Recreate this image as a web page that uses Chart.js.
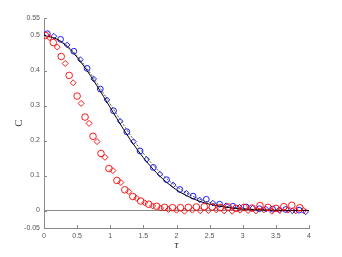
<!DOCTYPE html>
<html>
<head>
<meta charset="utf-8">
<script src="https://cdn.jsdelivr.net/npm/chart.js@4"></script>
<style>
  html, body { margin: 0; padding: 0; background: #fff; }
  #wrap { width: 342px; height: 257px; }
</style>
</head>
<body>
<div id="wrap"><canvas id="myChart" width="342" height="257"></canvas></div>
<script>
// tick labels
var xTicks = [0, 0.5, 1, 1.5, 2, 2.5, 3, 3.5, 4];
var yTicks = [-0.05, 0, 0.1, 0.2, 0.3, 0.4, 0.5, 0.55];

// red circles
var redCircleT = [0.02, 0.14, 0.26, 0.38, 0.50, 0.62, 0.74, 0.86, 0.98, 1.10, 1.22, 1.34, 1.46, 1.58, 1.70, 1.82, 1.94,
	2.06, 2.18, 2.30, 2.42, 2.54, 2.66, 2.78, 2.90, 3.02, 3.14, 3.26, 3.38, 3.50, 3.62, 3.74, 3.86];
var redCircleC = [0.500, 0.480, 0.440, 0.386, 0.327, 0.267, 0.212, 0.163, 0.120, 0.086, 0.059, 0.040, 0.027, 0.018, 0.012, 0.009, 0.008,
	0.008, 0.009, 0.010, 0.011, 0.010, 0.008, 0.010, 0.006, 0.009, 0.007, 0.014, 0.009, 0.006, 0.011, 0.015, 0.008];

// red diamonds
var redDiamondT = [0.08, 0.20, 0.32, 0.44, 0.56, 0.68, 0.80, 0.92, 1.04, 1.16, 1.28, 1.40, 1.52, 1.64, 1.76, 1.88, 2.00,
	2.12, 2.24, 2.36, 2.48, 2.60, 2.72, 2.84, 2.96, 3.08, 3.20, 3.32, 3.44, 3.56, 3.68, 3.80, 3.92];
var redDiamondC = [0.494, 0.467, 0.420, 0.365, 0.306, 0.249, 0.197, 0.152, 0.114, 0.080, 0.054, 0.035, 0.022, 0.013, 0.007, 0.003, 0.001,
	-0.002, 0.001, -0.001, 0.000, 0.002, -0.001, -0.002, 0.001, 0.000, -0.001, 0.002, -0.002, 0.000, 0.001, -0.001, 0.000];

// blue circles
var blueCircleT = [0.05, 0.25, 0.45, 0.65, 0.85, 1.05, 1.25, 1.45, 1.65, 1.85, 2.05, 2.25, 2.45, 2.65, 2.85, 3.05, 3.25, 3.45, 3.65, 3.85];
var blueCircleC = [0.505, 0.489, 0.455, 0.406, 0.347, 0.285, 0.225, 0.170, 0.123, 0.088, 0.060, 0.041, 0.032, 0.018, 0.012, 0.010, 0.005, 0.004, 0.003, 0.001];

// blue diamonds
var blueDiamondT = [0.15, 0.35, 0.55, 0.75, 0.95, 1.15, 1.35, 1.55, 1.75, 1.95, 2.15, 2.35, 2.55, 2.75, 2.95, 3.15, 3.35, 3.55, 3.75, 3.95];
var blueDiamondC = [0.498, 0.473, 0.431, 0.376, 0.316, 0.255, 0.197, 0.146, 0.104, 0.073, 0.049, 0.030, 0.021, 0.014, 0.009, 0.007, 0.004, 0.002, -0.001, -0.004];

// black curves
var lineT = [0, 0.2, 0.4, 0.6, 0.8, 1.0, 1.2, 1.4, 1.6, 1.8, 2.0, 2.2, 2.4, 2.6, 2.8, 3.0, 3.2, 3.4, 3.6, 3.8, 4.0];
var solidC = [0.500, 0.489, 0.459, 0.413, 0.356, 0.294, 0.232, 0.176, 0.128, 0.089, 0.059, 0.038, 0.023, 0.014, 0.008, 0.004, 0.002, 0.001, 0, 0, 0];
var dottedC = [0.500, 0.490, 0.462, 0.418, 0.364, 0.304, 0.245, 0.189, 0.140, 0.100, 0.069, 0.045, 0.029, 0.018, 0.010, 0.006, 0.003, 0.002, 0.001, 0, 0];

function pts(t, c) {
	return t.map(function (v, i) { return { x: v, y: c[i] }; });
}

var axisGray = "#8a8a8a";

// MATLAB style ticks pointing into the plot
var innerTicks = {
	id: "innerTicks",
	afterDraw: function (chart) {
		var ctx = chart.ctx;
		var xs = chart.scales.x, ys = chart.scales.y;
		var a = chart.chartArea;
		ctx.save();
		ctx.strokeStyle = axisGray;
		ctx.lineWidth = 1;
		ctx.beginPath();
		xTicks.forEach(function (v) {
			var px = Math.round(xs.getPixelForValue(v)) + 0.5;
			ctx.moveTo(px, a.bottom);
			ctx.lineTo(px, a.bottom - 3);
		});
		yTicks.forEach(function (v) {
			var py = Math.round(ys.getPixelForValue(v)) + 0.5;
			ctx.moveTo(a.left, py);
			ctx.lineTo(a.left + 3, py);
		});
		ctx.stroke();
		ctx.restore();
	},
};

var tickFont = { family: "'Liberation Sans', Arial, sans-serif", size: 7 };

const config = {
	type: "scatter",
	data: {
		datasets: [
			{
				label: "red circles",
				data: pts(redCircleT, redCircleC),
				pointStyle: "circle",
				pointRadius: 3.3,
				borderColor: "#ff0000",
				backgroundColor: "rgba(0,0,0,0)",
				borderWidth: 0.9,
			},
			{
				label: "red diamonds",
				data: pts(redDiamondT, redDiamondC),
				pointStyle: "rectRot",
				pointRadius: 3,
				borderColor: "#ff0000",
				backgroundColor: "rgba(0,0,0,0)",
				borderWidth: 0.9,
			},
			{
				label: "solid",
				data: pts(lineT, solidC),
				showLine: true,
				pointRadius: 0,
				borderColor: "#000000",
				borderWidth: 1,
				cubicInterpolationMode: "monotone",
			},
			{
				label: "dotted",
				data: pts(lineT, dottedC),
				showLine: true,
				pointRadius: 0,
				borderColor: "#555555",
				borderWidth: 1,
				borderDash: [2, 1.5],
				cubicInterpolationMode: "monotone",
			},
			{
				label: "blue circles",
				data: pts(blueCircleT, blueCircleC),
				pointStyle: "circle",
				pointRadius: 2.9,
				borderColor: "#0000ff",
				backgroundColor: "rgba(0,0,0,0)",
				borderWidth: 0.9,
			},
			{
				label: "blue diamonds",
				data: pts(blueDiamondT, blueDiamondC),
				pointStyle: "rectRot",
				pointRadius: 2.8,
				borderColor: "#0000ff",
				backgroundColor: "rgba(0,0,0,0)",
				borderWidth: 0.9,
			},
		],
	},
	options: {
		responsive: false,
		animation: false,
		layout: { padding: { left: 0, right: 33, top: 18, bottom: 0 } },
		plugins: {
			legend: { display: false },
			tooltip: { enabled: false },
		},
		scales: {
			x: {
				type: "linear",
				min: 0,
				max: 4,
				afterBuildTicks: function (scale) {
					scale.ticks = xTicks.map(function (v) { return { value: v }; });
				},
				afterFit: function (scale) { scale.height = 29; },
				grid: { display: false, drawTicks: false },
				border: { display: true, color: axisGray, width: 1 },
				ticks: {
					font: tickFont,
					color: "#555555",
					padding: 4,
					maxRotation: 0,
					callback: function (v) { return String(v); },
				},
				title: {
					display: true,
					text: "τ",
					font: { family: "'Liberation Serif', 'Times New Roman', serif", size: 11, style: "italic" },
					color: "#333333",
					padding: { top: 0, bottom: 5 },
				},
			},
			y: {
				type: "linear",
				min: -0.05,
				max: 0.55,
				afterBuildTicks: function (scale) {
					scale.ticks = yTicks.map(function (v) { return { value: v }; });
				},
				afterFit: function (scale) { scale.width = 44; },
				grid: {
					drawTicks: false,
					color: function (c) { return c.tick && c.tick.value === 0 ? axisGray : "rgba(0,0,0,0)"; },
					lineWidth: 1,
				},
				border: { display: true, color: axisGray, width: 1 },
				ticks: {
					font: tickFont,
					color: "#555555",
					padding: 4,
					callback: function (v) { return String(v); },
				},
				title: {
					display: true,
					text: "C",
					font: { family: "'Liberation Serif', 'Times New Roman', serif", size: 11 },
					color: "#333333",
					padding: { top: 13, bottom: 0 },
				},
			},
		},
	},
	plugins: [innerTicks],
};

const myChart = new Chart(document.getElementById("myChart"), config);
</script>
</body>
</html>
